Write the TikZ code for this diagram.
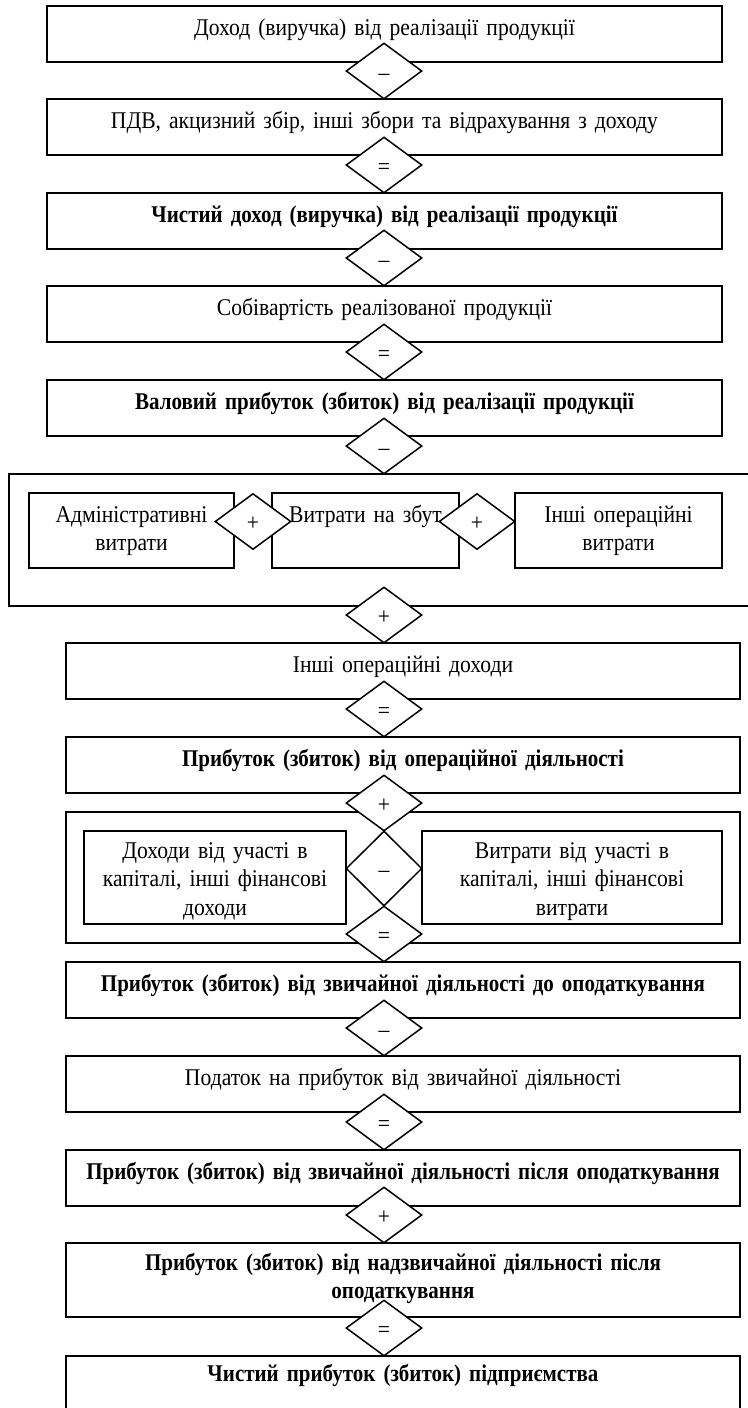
\documentclass[tikz,border=0pt]{standalone}
\usepackage{fontspec}
\setmainfont{Liberation Serif}[FakeStretch=0.9, BoldFeatures={FakeStretch=0.875}]
\usetikzlibrary{shapes.geometric}
\newcommand{\chartfont}{\fontsize{24}{28.5}\selectfont}

\begin{document}
\begin{tikzpicture}[
    x=1pt, y=-1pt,
    box/.style={rectangle, draw, line width=1.5pt, fill=white, inner sep=0pt, align=center, text height=29pt, text depth=27pt, font=\chartfont},
    bbox/.style={box, font=\chartfont\bfseries},
    frame/.style={rectangle, draw, line width=1.5pt, inner sep=0pt},
    sign/.style={diamond, draw, line width=1.5pt, fill=white, inner sep=0pt, minimum width=76pt, minimum height=56pt, text height=18pt, text depth=0pt, font=\chartfont}
  ]
  \useasboundingbox (0,0) rectangle (747,1408);

  % Revenue part
  \node[box, text width=675pt] (income) at (384.5,34) {Доход (виручка) від реалізації продукції};
  \node[box, text width=675pt] (vat) at (384.5,127) {ПДВ, акцизний збір, інші збори та відрахування з доходу};
  \node[bbox, text width=675pt] (netincome) at (384.5,221) {Чистий доход (виручка) від реалізації продукції};
  \node[box, text width=675pt] (cost) at (384.5,314) {Собівартість реалізованої продукції};
  \node[bbox, text width=675pt] (gross) at (384.5,408) {Валовий прибуток (збиток) від реалізації продукції};

  % Operating expenses
  \node[frame, minimum width=760pt, minimum height=132pt] (opexp) at (389,540) {};
  \node[box, text width=205pt, text depth=46pt] (admin) at (131.5,530.5) {Адміністративні\\витрати};
  \node[box, text width=187pt, text depth=46pt] (sales) at (365.5,530.5) {Витрати на збут};
  \node[box, text width=207pt, text depth=46pt] (otherexp) at (618.5,530.5) {Інші операційні\\витрати};

  % Operating result
  \node[box, text width=674pt] (otherinc) at (403,671) {Інші операційні доходи};
  \node[bbox, text width=674pt] (opprofit) at (403,765) {Прибуток (збиток) від операційної діяльності};

  % Financial part
  \node[frame, minimum width=674pt, minimum height=131pt] (fin) at (403,877.5) {};
  \node[box, text width=262pt, text height=27pt, text depth=66pt] (fininc) at (215,877.5) {Доходи від участі в\\капіталі, інші фінансові\\доходи};
  \node[box, text width=300pt, text height=27pt, text depth=66pt] (finexp) at (572,877.5) {Витрати від участі в\\капіталі, інші фінансові\\витрати};

  % Final result
  \node[bbox, text width=674pt] (pretax) at (403,990) {Прибуток (збиток) від звичайної діяльності до оподаткування};
  \node[box, text width=674pt] (tax) at (403,1084) {Податок на прибуток від звичайної діяльності};
  \node[bbox, text width=674pt] (aftertax) at (403,1178) {Прибуток (збиток) від звичайної діяльності після оподаткування};
  \node[bbox, text width=674pt, text height=27pt, text depth=47pt] (extra) at (403,1280) {Прибуток (збиток) від надзвичайної діяльності після\\оподаткування};
  \node[bbox, text width=674pt, text height=25pt, text depth=39pt] (netprofit) at (403,1388) {Чистий прибуток (збиток) підприємства};

  % Signs
  \node[sign] (s1) at (384,71) {–};
  \node[sign] (s2) at (384,165) {=};
  \node[sign] (s3) at (384,258) {–};
  \node[sign] (s4) at (384,352) {=};
  \node[sign] (s5) at (384,446) {–};
  \node[sign] (s6) at (253,521.5) {+};
  \node[sign] (s7) at (477,521.5) {+};
  \node[sign] (s8) at (384,615) {+};
  \node[sign] (s9) at (384,709) {=};
  \node[sign] (s10) at (384,803) {+};
  \node[sign, minimum height=75pt] (s11) at (384,868.5) {–};
  \node[sign] (s12) at (384,934) {=};
  \node[sign] (s13) at (384,1028) {–};
  \node[sign] (s14) at (384,1122) {=};
  \node[sign] (s15) at (384,1215) {+};
  \node[sign] (s16) at (384,1328) {=};
\end{tikzpicture}
\end{document}
